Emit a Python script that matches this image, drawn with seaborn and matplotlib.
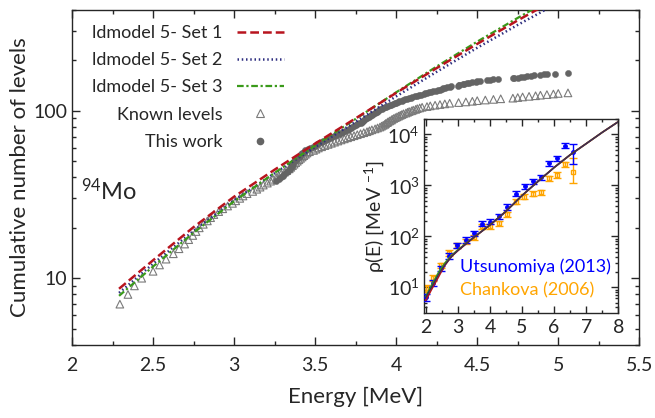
import numpy as np
import matplotlib
matplotlib.use("Agg")
import matplotlib.pyplot as plt
import seaborn as sns
from matplotlib.lines import Line2D
from matplotlib.ticker import MultipleLocator, LogLocator, NullFormatter

# model curves (cumulative number of levels)
model_e = [2.29, 2.5, 2.75, 3.0, 3.25, 3.5, 3.75, 4.0, 4.25, 4.5, 4.75, 5.0]
set1_n = [8.65, 12.8, 20.2, 30.7, 44.5, 63.7, 90.2, 128, 180, 251, 347, 473]
set2_n = [8.17, 12.2, 19.2, 29.2, 42.4, 60.8, 86.1, 122, 171, 238, 326, 442]
set3_n = [7.85, 11.75, 18.7, 28.8, 42.6, 62.1, 89.5, 129, 184, 259, 359, 492]

# known levels, energies of levels 7..128
known_start = 7
known_e = [2.295, 2.345, 2.385, 2.43, 2.50, 2.54, 2.58, 2.625, 2.66, 2.695,
           2.72, 2.745, 2.765, 2.785, 2.81, 2.835, 2.855, 2.875, 2.905, 2.93,
           2.96, 2.99, 3.01, 3.035, 3.055, 3.08, 3.115, 3.14, 3.16, 3.18,
           3.205, 3.225, 3.24, 3.26, 3.275, 3.29, 3.31, 3.325, 3.34, 3.35,
           3.36, 3.37, 3.38, 3.39, 3.40, 3.41, 3.42, 3.43, 3.44, 3.45,
           3.465, 3.49, 3.505, 3.52, 3.54, 3.56, 3.58, 3.60, 3.62, 3.64,
           3.66, 3.68, 3.70, 3.72, 3.74, 3.76, 3.78, 3.80, 3.82, 3.835,
           3.85, 3.87, 3.885, 3.90, 3.91, 3.92, 3.93, 3.935, 3.945, 3.95,
           3.96, 3.97, 3.975, 3.985, 3.995, 4.005, 4.015, 4.025, 4.035, 4.045,
           4.06, 4.07, 4.08, 4.095, 4.105, 4.12, 4.13, 4.145, 4.16, 4.19,
           4.21, 4.24, 4.27, 4.30, 4.33, 4.385, 4.43, 4.47, 4.50, 4.55,
           4.60, 4.645, 4.72, 4.75, 4.78, 4.82, 4.86, 4.89, 4.93, 4.97,
           5.00, 5.06]

# this work, energies of levels 38..168
work_start = 38
work_e = [3.26, 3.275, 3.29, 3.30, 3.31, 3.325, 3.335, 3.345, 3.35, 3.355,
          3.36, 3.365, 3.37, 3.38, 3.39, 3.40, 3.405, 3.41, 3.42, 3.43,
          3.44, 3.455, 3.47, 3.485, 3.50, 3.51, 3.525, 3.54, 3.55, 3.565,
          3.575, 3.59, 3.60, 3.615, 3.63, 3.645, 3.66, 3.67, 3.685, 3.70,
          3.71, 3.72, 3.73, 3.74, 3.75, 3.76, 3.77, 3.78, 3.79, 3.795,
          3.80, 3.81, 3.815, 3.82, 3.83, 3.84, 3.845, 3.85, 3.86, 3.87,
          3.875, 3.88, 3.89, 3.895, 3.90, 3.91, 3.92, 3.93, 3.94, 3.95,
          3.96, 3.97, 3.98, 3.99, 4.00, 4.01, 4.02, 4.035, 4.045, 4.055,
          4.065, 4.08, 4.09, 4.10, 4.115, 4.13, 4.14, 4.155, 4.17, 4.18,
          4.19, 4.20, 4.215, 4.23, 4.245, 4.26, 4.27, 4.285, 4.29, 4.30,
          4.315, 4.33, 4.34, 4.38, 4.385, 4.39, 4.41, 4.42, 4.44, 4.45,
          4.47, 4.49, 4.50, 4.52, 4.56, 4.58, 4.60, 4.63, 4.72, 4.73,
          4.75, 4.77, 4.79, 4.81, 4.83, 4.85, 4.89, 4.91, 4.93, 4.98,
          5.06]

known_n = np.arange(known_start, known_start + len(known_e))
work_n = np.arange(work_start, work_start + len(work_e))

# inset: level density
rho_e = [2.0, 2.2, 2.4, 2.5, 2.6, 2.8, 3.0, 3.5, 4.0, 4.5, 5.0, 5.5, 6.0, 6.5, 7.0, 7.5, 8.0]
rho_set1 = [5.5, 9.5, 16, 21, 27, 40, 52, 95, 166, 309, 631, 1200, 2240, 3980, 6600, 11000, 17800]
rho_set2 = [6.3, 10.5, 17.8, 22.4, 27.5, 39.8, 52.5, 95, 166, 309, 631, 1200, 2240, 3980, 6600, 11000, 17800]
rho_set3 = [6.5, 11.5, 19.5, 24.5, 30, 42, 54, 96, 166, 309, 631, 1200, 2240, 3980, 6600, 11000, 17800]

utsu_e = [2.0, 2.22, 2.47, 2.72, 2.97, 3.25, 3.5, 3.75, 4.0, 4.27, 4.53, 4.81,
          5.08, 5.34, 5.59, 5.84, 6.09, 6.34, 6.6]
utsu_rho = [6.3, 12, 23.5, 41, 66, 85, 115, 178, 195, 250, 380, 690,
            955, 1200, 1450, 2700, 3400, 6000, 4500]
utsu_lo = [0.9, 1.6, 3, 5, 8, 10, 14, 22, 24, 30, 45, 80, 110, 140, 170, 320, 400, 700, 1900]
utsu_hi = [0.9, 1.6, 3, 5, 8, 10, 14, 22, 24, 30, 45, 80, 110, 140, 170, 320, 400, 700, 2100]

chan_e = [2.0, 2.22, 2.47, 2.72, 2.97, 3.25, 3.5, 3.75, 4.0, 4.27, 4.53, 4.81,
          5.06, 5.34, 5.59, 5.84, 6.09, 6.34, 6.6]
chan_rho = [9.5, 15, 27, 47, 66, 80, 95, 158, 158, 180, 270, 480,
            600, 690, 740, 1380, 1600, 2600, 1800]
chan_lo = [1.4, 2, 3.5, 6, 8, 10, 12, 19, 19, 22, 32, 55, 70, 80, 85, 160, 190, 300, 700]
chan_hi = [1.4, 2, 3.5, 6, 8, 10, 12, 19, 19, 22, 32, 55, 70, 80, 85, 160, 190, 300, 1700]

red = "#b8141e"
navy = "#2e2e80"
green = "#3a9a1a"
gray = "#646464"
tri_gray = "#7a7a7a"

sns.set_style("ticks")
plt.rcParams["font.family"] = ["Lato", "DejaVu Sans"]
plt.rcParams["mathtext.fontset"] = "custom"
plt.rcParams["mathtext.rm"] = "Lato"
plt.rcParams["mathtext.it"] = "Lato:italic"
plt.rcParams["mathtext.bf"] = "Lato:bold"

fig = plt.figure(figsize=(6.55, 4.18), dpi=100)
ax = fig.add_axes([0.110, 0.175, 0.866, 0.801])

sns.scatterplot(x=known_e, y=known_n, ax=ax, marker="^", s=30,
                facecolor="none", edgecolor=tri_gray, linewidth=0.8, zorder=2)
sns.scatterplot(x=work_e, y=work_n, ax=ax, marker="o", s=20,
                color=gray, edgecolor=gray, linewidth=0.3, zorder=3)

sns.lineplot(x=model_e, y=set2_n, ax=ax, color=navy, lw=1.8,
             linestyle=(0, (0.6, 1.1)), zorder=4)
sns.lineplot(x=model_e, y=set3_n, ax=ax, color=green, lw=1.6,
             linestyle=(0, (3, 1.2, 1, 1.2)), zorder=5)
sns.lineplot(x=model_e, y=set1_n, ax=ax, color=red, lw=1.8,
             linestyle=(0, (3.5, 1.6)), zorder=6)

ax.set_yscale("log")
ax.set_xlim(2, 5.5)
ax.set_ylim(4, 400)
ax.set_yticks([10, 100], ["10", "100"])
ax.yaxis.set_minor_locator(LogLocator(base=10, subs=np.arange(2, 10)))
ax.yaxis.set_minor_formatter(NullFormatter())
ax.xaxis.set_minor_locator(MultipleLocator(0.25))
ax.set_xticks([2, 2.5, 3, 3.5, 4, 4.5, 5, 5.5], ["2", "2.5", "3", "3.5", "4", "4.5", "5", "5.5"])
ax.tick_params(which="both", direction="in", top=True, right=True, labelsize=14, width=1)
ax.tick_params(which="major", length=6)
ax.tick_params(which="minor", length=3)
ax.tick_params(axis="x", pad=9)
for sp in ax.spines.values():
    sp.set_linewidth(1.0)
ax.set_xlabel("Energy [MeV]", fontsize=16, labelpad=9)
ax.set_ylabel("Cumulative number of levels", fontsize=16, labelpad=2)

ax.text(0.016, 0.46, r"$^{94}$Mo", transform=ax.transAxes, fontsize=17, va="center")

handles = [
    Line2D([], [], color=red, lw=1.8, linestyle=(0, (3.5, 1.6))),
    Line2D([], [], color=navy, lw=1.8, linestyle=(0, (0.6, 1.1))),
    Line2D([], [], color=green, lw=1.6, linestyle=(0, (3, 1.2, 1, 1.2))),
    Line2D([], [], ls="none", marker="^", mfc="none", mec=tri_gray, ms=6, mew=0.8),
    Line2D([], [], ls="none", marker="o", mfc=gray, mec=gray, ms=4.5),
]
labels = ["ldmodel 5- Set 1", "ldmodel 5- Set 2", "ldmodel 5- Set 3",
          "Known levels", "This work"]
ax.legend(handles, labels, loc="upper left", bbox_to_anchor=(0.035, 0.955),
          frameon=False, markerfirst=False, fontsize=13, handlelength=2.6,
          handletextpad=0.8, labelspacing=0.62, borderpad=0, borderaxespad=0)

# inset
axin = fig.add_axes([0.647, 0.251, 0.297, 0.464])
axin.set_facecolor("white")
axin.errorbar(utsu_e, utsu_rho, yerr=[utsu_lo, utsu_hi], fmt="o", ms=2.5,
              color="#0000ff", capsize=3, elinewidth=1, capthick=1, zorder=3)
axin.errorbar(chan_e, chan_rho, yerr=[chan_lo, chan_hi], fmt="s", ms=3,
              mfc="none", color="#ffa500", capsize=3, elinewidth=1, capthick=1, zorder=2)
sns.lineplot(x=rho_e, y=rho_set3, ax=axin, color=green, lw=1.2, zorder=4)
sns.lineplot(x=rho_e, y=rho_set1, ax=axin, color=red, lw=1.2, zorder=5)
sns.lineplot(x=rho_e, y=rho_set2, ax=axin, color="#333355", lw=1.0, zorder=6)

axin.set_yscale("log")
axin.set_xlim(1.94, 8)
axin.set_ylim(3.1, 2e4)
axin.set_xticks([2, 3, 4, 5, 6, 7, 8])
axin.xaxis.set_minor_locator(MultipleLocator(0.5))
axin.set_yticks([10, 100, 1000, 10000])
axin.yaxis.set_minor_locator(LogLocator(base=10, subs=np.arange(2, 10)))
axin.yaxis.set_minor_formatter(NullFormatter())
axin.tick_params(which="both", direction="in", top=True, right=True, labelsize=14, width=1)
axin.tick_params(which="major", length=5)
axin.tick_params(which="minor", length=2.5)
axin.tick_params(axis="x", pad=4)
axin.tick_params(axis="y", pad=3)
for sp in axin.spines.values():
    sp.set_linewidth(1.0)
axin.set_ylabel(r"ρ(E) [MeV $^{-1}$]", fontsize=14, labelpad=1)
axin.text(0.186, 0.237, "Utsunomiya (2013)", color="#0000ff", fontsize=13,
          transform=axin.transAxes, va="center")
axin.text(0.186, 0.119, "Chankova (2006)", color="#ffa500", fontsize=13,
          transform=axin.transAxes, va="center")

fig.savefig("out.png", dpi=100)
